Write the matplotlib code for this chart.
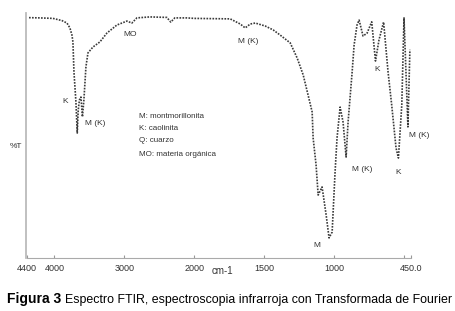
import numpy as np
import matplotlib
matplotlib.use("Agg")
from matplotlib import pyplot as plt

plt.rcParams["font.family"] = ["Liberation Sans", "DejaVu Sans"]

# FTIR spectrum (wavenumber cm-1, %T)
wavenumber = [4364, 4207, 4021, 3893, 3821, 3779, 3750, 3736, 3721, 3693,
              3674, 3660, 3643, 3621, 3600, 3579, 3550, 3521, 3450, 3350,
              3250, 3107, 2964, 2893, 2821, 2636, 2393, 2336, 2279, 2107,
              2000, 1743, 1671, 1636, 1600, 1564, 1493, 1436, 1386, 1314,
              1264, 1221, 1186, 1157, 1150, 1129, 1114, 1086, 1057, 1036,
              1014, 993, 979, 957, 936, 914, 900, 871, 857, 836,
              821, 793, 764, 731, 704, 679, 646, 614, 588, 557,
              540, 516, 500, 486, 472, 458]
transmittance = [98.1, 98.0, 97.8, 96.9, 95.9, 93.9, 91.0, 88.2, 75.9, 63.7,
                 51.0, 60.4, 64.5, 65.7, 57.6, 64.5, 78.0, 83.7, 86.1, 88.2,
                 91.8, 95.1, 96.7, 95.9, 98.0, 98.4, 98.2, 96.3, 98.0, 98.0,
                 97.8, 97.6, 95.5, 93.9, 95.5, 95.9, 94.7, 93.1, 91.0, 87.8,
                 81.6, 74.7, 66.5, 59.6, 49.0, 38.0, 25.7, 29.0, 17.6, 8.2,
                 10.6, 35.1, 49.0, 61.6, 55.5, 41.2, 55.5, 75.9, 86.9, 95.1,
                 97.1, 90.6, 91.8, 96.4, 80.4, 89.0, 96.3, 75.9, 62.4, 44.9,
                 40.8, 62.4, 98.0, 75.9, 53.5, 85.0]

# band labels
band_text = ["K", "M (K)", "MO", "M (K)", "K", "M", "M (K)", "K", "M (K)"]
band_wn = [3850, 3421, 2921, 1614, 695, 1121, 802, 543, 393]
band_t = [63.7, 55.1, 91.4, 88.2, 77.1, 4.9, 36.3, 35.1, 49.8]

legend_lines = ["M: montmorillonita", "K: caolinita", "Q: cuarzo",
                "MO: materia orgánica"]
legend_t = [57.6, 52.7, 47.8, 42.4]

tick_pos = [4400, 4000, 3000, 2000, 1500, 1000, 500, 450]
tick_lab = ["4400", "4000", "3000", "2000", "1500", "1000", "", "450.0"]


# instrument scale: below 2000 cm-1 the axis is stretched x2
def fwd(w):
    w = np.asarray(w, dtype=float)
    return np.where(w >= 2000, w, 2 * w - 2000)


def inv(v):
    v = np.asarray(v, dtype=float)
    return np.where(v >= 2000, v, (v + 2000) / 2)


fig = plt.figure(figsize=(4.56, 3.11), dpi=100)
ax = fig.add_axes([26.5 / 456, 1 - 258 / 311, 384.5 / 456, 245 / 311])
ax.set_xscale("function", functions=(fwd, inv))
ax.plot(wavenumber, transmittance, color="#3a3a3a", lw=1.2,
        linestyle=(0, (1, 0.8)))
ax.set_xlim(4400, 450)
ax.set_ylim(0, 100)

ax.set_xticks(tick_pos)
ax.set_xticklabels(tick_lab)
ax.set_yticks([])
ax.tick_params(axis="x", direction="in", length=2, color="#999999",
               labelsize=6.5, labelcolor="#333333", pad=4)
for s in ["top", "right"]:
    ax.spines[s].set_visible(False)
ax.spines["left"].set_color("#bbbbbb")
ax.spines["left"].set_linewidth(1.3)
ax.spines["bottom"].set_color("#aaaaaa")

for txt, w, t in zip(band_text, band_wn, band_t):
    ax.text(w, t, txt, fontsize=6, color="#333333", ha="center", va="center")

for txt, t in zip(legend_lines, legend_t):
    ax.text(2793, t, txt, fontsize=5.8, color="#333333", ha="left", va="center")

fig.text(16 / 456, 1 - 146 / 311, "%T", fontsize=6, color="#333333",
         ha="center", va="center")
fig.text(222 / 456, 1 - 271 / 311, "cm-1", fontsize=7, color="#333333",
         ha="center", va="center")

t1 = fig.text(7 / 456, 1 - 303 / 311, "Figura 3", fontsize=10,
              fontweight="bold", ha="left", va="baseline")
fig.canvas.draw()
bb = t1.get_window_extent()
fig.text((bb.x1 + 4) / 456, 1 - 303 / 311,
         "Espectro FTIR, espectroscopia infrarroja con Transformada de Fourier",
         fontsize=8.9, ha="left", va="baseline")

fig.savefig("out.png", dpi=100)
